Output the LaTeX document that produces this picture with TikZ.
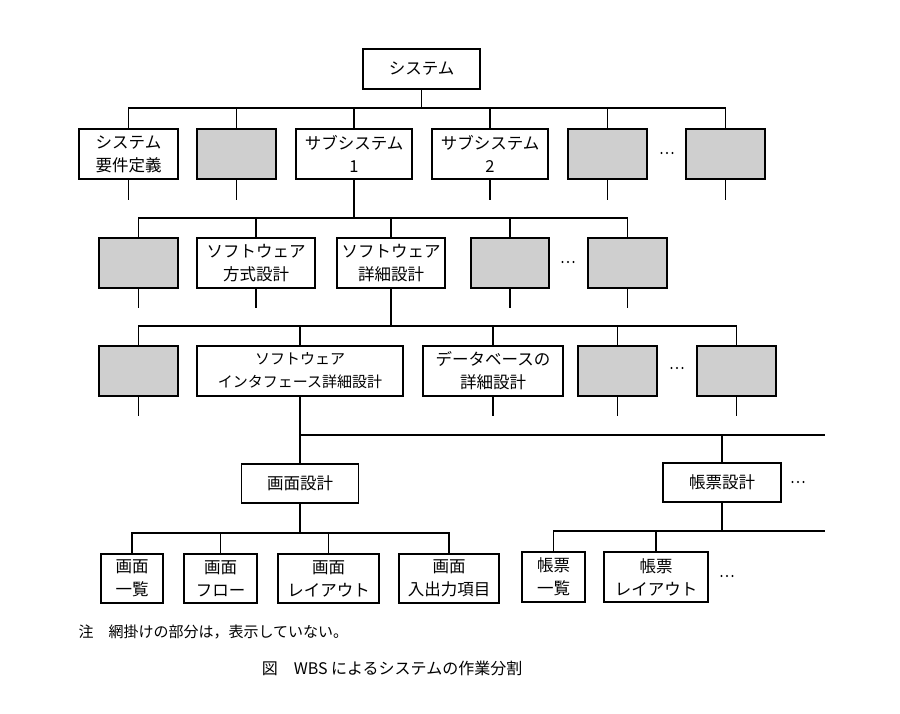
\documentclass[tikz,border=0pt]{standalone}
\usepackage{fontspec}
\setmainfont{Noto Sans CJK JP}
\newcommand\mydotsat[1]{\foreach \dx in {-5.5,0,5.5} \fill ([xshift=\dx pt]#1) circle (1.1pt);}
\begin{document}
\begin{tikzpicture}[x=1pt,y=-1pt,
  line width=1.3pt,
  wbox/.style={draw, fill=white, inner sep=0pt, align=center, minimum height=50pt,
    font=\fontsize{16.5}{23}\selectfont},
  gbox/.style={wbox, fill=gray!38}]
\useasboundingbox (0,0) rectangle (900,714);
% ---------- row 1
\node[wbox, minimum width=117pt, minimum height=40pt] (sys) at (421.5,69) {システム};
% ---------- row 2
\node[wbox, minimum width=99pt]  (r2a) at (128.5,154) {システム\\要件定義};
\node[gbox, minimum width=79pt]  (r2b) at (236.5,154) {};
\node[wbox, minimum width=116pt] (r2c) at (354,154) {サブシステム\\1};
\node[wbox, minimum width=116pt] (r2d) at (490,154) {サブシステム\\2};
\node[gbox, minimum width=79pt]  (r2e) at (607.5,154) {};
\coordinate (r2dots) at (667,153);
\node[gbox, minimum width=79pt]  (r2f) at (725.5,154) {};
\coordinate (b1) at (421.5,108);
\draw (sys.south) -- (b1);
\draw (r2a.north) -- (r2a.north |- b1) -- (r2f.north |- b1) -- (r2f.north);
\foreach \n in {r2b,r2c,r2d,r2e} \draw (\n.north) -- (\n.north |- b1);
\foreach \n in {r2a,r2b,r2d,r2e,r2f} \draw (\n.south) -- ++(0,20);
% ---------- row 3
\node[gbox, minimum width=79pt]  (r3a) at (138.5,263) {};
\node[wbox, minimum width=118pt] (r3b) at (256,263) {ソフトウェア\\方式設計};
\node[wbox, minimum width=108pt] (r3c) at (391,263) {ソフトウェア\\詳細設計};
\node[gbox, minimum width=78pt]  (r3d) at (510,263) {};
\coordinate (r3dots) at (568,262);
\node[gbox, minimum width=79pt]  (r3e) at (627.5,263) {};
\coordinate (b2) at (354,218);
\draw (r2c.south) -- (b2);
\draw (r3a.north) -- (r3a.north |- b2) -- (r3e.north |- b2) -- (r3e.north);
\foreach \n in {r3b,r3c,r3d} \draw (\n.north) -- (\n.north |- b2);
\foreach \n in {r3a,r3b,r3d,r3e} \draw (\n.south) -- ++(0,19);
% ---------- row 4
\node[gbox, minimum width=79pt]  (r4a) at (138.5,371) {};
\node[wbox, minimum width=206pt, font=\fontsize{15}{23}\selectfont] (r4b) at (300,371) {ソフトウェア\\インタフェース詳細設計};
\node[wbox, minimum width=140pt] (r4c) at (493,371) {データベースの\\詳細設計};
\node[gbox, minimum width=79pt]  (r4d) at (617.5,371) {};
\coordinate (r4dots) at (677,368);
\node[gbox, minimum width=79pt]  (r4e) at (736.5,371) {};
\coordinate (b3) at (391,326);
\draw (r3c.south) -- (b3);
\draw (r4a.north) -- (r4a.north |- b3) -- (r4e.north |- b3) -- (r4e.north);
\foreach \n in {r4b,r4c,r4d} \draw (\n.north) -- (\n.north |- b3);
\foreach \n in {r4a,r4c,r4d,r4e} \draw (\n.south) -- ++(0,19);
% ---------- row 5
\node[wbox, minimum width=117pt, minimum height=39pt] (gm) at (300,483.5) {画面設計};
\node[wbox, minimum width=118pt, minimum height=39pt] (ch) at (722,482.5) {帳票設計};
\coordinate (r5dots) at (798,482);
\coordinate (b4) at (300,435);
\coordinate (b4end) at (825,435);
\draw (r4b.south) -- (gm.north);
\draw (b4) -- (b4end);
\draw (ch.north) -- (ch.north |- b4);
% ---------- row 6 (gamen)
\node[wbox, minimum width=62pt,  minimum height=49pt] (g1) at (132,578.5) {画面\\一覧};
\node[wbox, minimum width=73pt,  minimum height=49pt] (g2) at (220.5,578.5) {画面\\フロー};
\node[wbox, minimum width=101pt, minimum height=49pt] (g3) at (328.5,578.5) {画面\\レイアウト};
\node[wbox, minimum width=100pt, minimum height=49pt] (g4) at (449,578.5) {画面\\入出力項目};
\coordinate (b5) at (300,533);
\draw (gm.south) -- (b5);
\draw (g1.north) -- (g1.north |- b5) -- (g4.north |- b5) -- (g4.north);
\foreach \n in {g2,g3} \draw (\n.north) -- (\n.north |- b5);
% ---------- row 6 (chohyo)
\node[wbox, minimum width=63pt]  (h1) at (553.5,577) {帳票\\一覧};
\node[wbox, minimum width=104pt] (h2) at (656,577) {帳票\\レイアウト};
\coordinate (r6dots) at (727,576);
\coordinate (b6) at (722,531);
\coordinate (b6end) at (825,531);
\draw (ch.south) -- (b6);
\draw (h1.north) -- (h1.north |- b6) -- (b6end);
\draw (h2.north) -- (h2.north |- b6);
% ---------- ellipses
\mydotsat{r2dots}
\mydotsat{r3dots}
\mydotsat{r4dots}
\mydotsat{r5dots}
\mydotsat{r6dots}
% ---------- notes
\node[anchor=west, inner sep=0pt, font=\fontsize{15}{17}\selectfont] (note) at (78,632) {注\quad 網掛けの部分は，表示していない。};
\node[inner sep=0pt, font=\fontsize{16}{18}\selectfont] (cap) at (392,668) {図\quad WBS によるシステムの作業分割};
\end{tikzpicture}
\end{document}
